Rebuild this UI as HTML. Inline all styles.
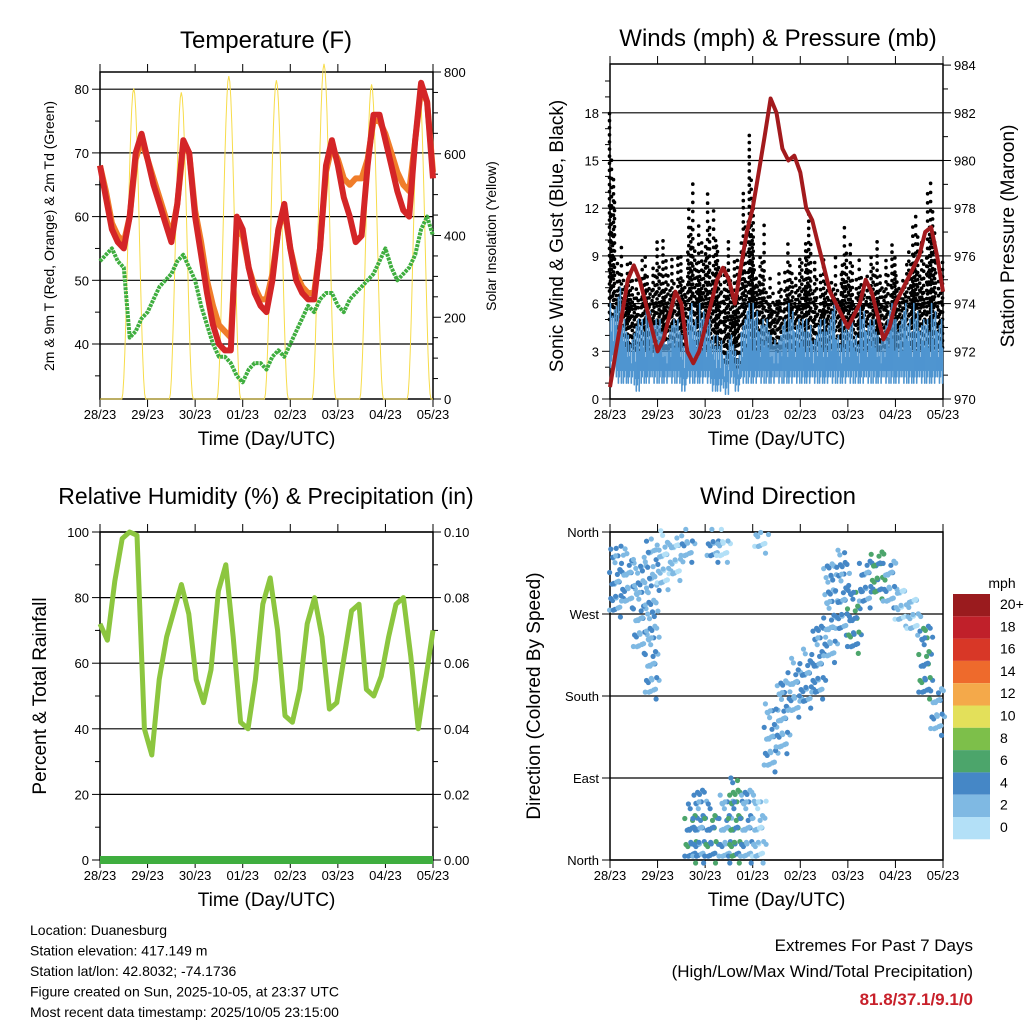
<!DOCTYPE html>
<html><head><meta charset="utf-8"><style>
body{margin:0;background:#fff}
svg{display:block;font-family:"Liberation Sans",sans-serif}
</style></head><body>
<svg id="s" width="1024" height="1024" viewBox="0 0 1024 1024"></svg>
<script>
// ---- data ----
const dayLabels=["28/23","29/23","30/23","01/23","02/23","03/23","04/23","05/23"];
const temp2m=[68,63,58,56,55,60,70,73,69,65,62,59,56,62,72,70,60,54,48,43,40,39,39,60,58,52,48,46,45,50,58,62,55,50,48,47,47,55,68,72,68,63,60,56,57,68,76,76,72,68,64,61,60,72,81,78,66];
const temp9m=[68,64,59,57,56,60,69,72,69,66,63,60,57,62,71,70,61,56,50,46,43,42,41,58,57,52,49,47,47,51,58,61,55,51,49,48,48,55,67,71,69,66,65,66,66,69,75,75,73,70,67,65,64,72,80,78,67];
const dewpt=[53,54,55,53,52,41,42,44,45,47,49,50,51,53,54,52,50,46,43,40,38,38,37,35,34,36,37,37,36,38,39,38,40,42,44,46,45,47,48,48,46,45,47,48,49,50,51,53,55,52,50,51,52,54,58,60,57];
const solarPeak=[760,750,790,780,820,770,775];
const pressure=[970.5,972,973.5,975,975.6,975,974,973,972,972.5,973.5,974.5,974,972,971.5,972,973,974,975,975.5,975,974,975.5,977,978,979.5,981,982.6,982,980.5,980,980.2,979.5,978,977.5,976.5,975.5,974.5,974,973.5,973,973.5,974,975,974.5,973.5,972.5,973,974,974.5,975,975.5,976,977,977.2,976,974.5];
const windMax=[6,7,5,4,5,5,6,5,5,4,5,5,4,6,5,6,5,4,4,3,4,3,5,6,6,5,5,4,4,5,6,5,5,5,4,5,5,6,4,5,5,4,6,5,5,4,5,6,5,6,5,6,5,5,6,5];
const windMin=[2,1,1,1,0.5,1,1,1,1,1,1,1,0.5,1,1,1,1,0.5,0.5,0.3,1,0.5,1,1,1,1,1,1,1,1,1,1,1,1,1,1,1,1,1,1,1,1,1,1,1,1,1,1,1,1,1,1,1,1,1,1];
const gustMax=[18,10,9,9,8,9,9,10,10,9,9,9,9,14,11,10,13,12,10,10,9,9,13,17,10,11,8,7,8,8,10,9,10,12,9,8,9,9,8,11,10,8,9,9,10,8,9,10,9,9,11,12,10,13,14,9];
const gustMin=[5,3,3,3,3,3,3,3,3,3,3,3,3,4,3,3,3,3,3,2,2,2,3,3,3,3,3,3,3,3,3,3,3,3,3,3,3,3,3,3,3,3,3,3,3,3,3,3,3,3,3,3,3,3,3,3];
const rh=[72,67,85,98,100,99,40,32,55,68,76,84,75,55,48,58,82,90,68,42,40,55,78,86,70,44,42,52,72,80,68,46,48,62,76,78,52,50,56,68,78,80,62,40,55,70];
const precip=[0,0,0,0,0,0,0,0];
const dirStart=[0,0.25,0.5,0.75,1.0,1.25,1.5,1.58,1.75,2.0,2.05,2.25,2.3,2.5,2.75,3.0,3.05,3.25,3.5,3.75,4.0,4.25,4.5,4.75,5.0,5.25,5.5,5.75,6.0,6.25,6.5,6.75];
const dirLo=[270,280,230,180,300,310,330,0,0,0,330,330,0,0,0,0,340,100,120,160,170,180,220,250,230,280,290,280,260,250,180,140];
const dirHi=[345,340,330,350,360,355,360,60,80,60,360,360,70,90,80,70,360,170,200,220,230,260,330,340,300,330,340,330,300,290,260,190];
const dirSpd=[4,3,3,3,2,2,3,5,4,5,4,1,3,6,3,2,2,3,3,3,4,4,3,4,5,4,6,3,2,2,5,3];
const cbLabels=["20+","18","16","14","12","10","8","6","4","2","0"];
const cbColors=["#9a1b1e","#c0202a","#d83727","#ee6a2c","#f4a94a","#e3e05a","#7dbf4a","#4ca56b","#4587c6","#7fb9e3","#b3e0f7"];

// ---- helpers ----
const S=document.getElementById('s');const NS="http://www.w3.org/2000/svg";
function mk(tag,at,parent){const e=document.createElementNS(NS,tag);for(const k in at)e.setAttribute(k,at[k]);(parent||S).appendChild(e);return e;}
function txt(x,y,t,sz,anchor,extra){const e=mk('text',Object.assign({x:x,y:y,'font-size':sz,'text-anchor':anchor||'middle',fill:'#000'},extra||{}));e.textContent=t;return e;}
function spdColor(v){let i=Math.min(10,Math.floor(v/2));return cbColors[10-i];}

function frame(x0,y0,x1,y1,name){
  const g=mk('g',{});
  
  
  mk('rect',{x:x0,y:y0,width:x1-x0,height:y1-y0,fill:'none',stroke:'#000','stroke-width':1.5},g);
  const step=(x1-x0)/7;
  for(let i=0;i<8;i++){const x=x0+i*step;
    mk('line',{x1:x,x2:x,y1:y1,y2:y1+8,stroke:'#000'},g);
    mk('line',{x1:x,x2:x,y1:y0,y2:y0-8,stroke:'#000'},g);
    const t=txt(x,y1+20,dayLabels[i],13);
    
    
  }
  const xt=txt((x0+x1)/2,y1+46,'Time (Day/UTC)',19);
  
  
  return g;
}
function leftTicks(x0,x1,yfn,vals,labels,minor,g,grid){
  vals.forEach((v,i)=>{const y=yfn(v);
    if(grid)mk('line',{x1:x0,x2:x1,y1:y,y2:y,stroke:'#000','stroke-width':1.2},g);
    mk('line',{x1:x0-8,x2:x0,y1:y,y2:y,stroke:'#000'},g);
    const t=txt(x0-11,y+5,labels[i],13,'end');
    
    });
  (minor||[]).forEach(v=>{const y=yfn(v);mk('line',{x1:x0-5,x2:x0,y1:y,y2:y,stroke:'#000'},g);});
}
function rightTicks(x1,yfn,vals,labels,minor,g){
  vals.forEach((v,i)=>{const y=yfn(v);
    mk('line',{x1:x1,x2:x1+8,y1:y,y2:y,stroke:'#000'},g);
    const t=txt(x1+11,y+5,labels[i],13,'start');
    
    });
  (minor||[]).forEach(v=>{const y=yfn(v);mk('line',{x1:x1,x2:x1+5,y1:y,y2:y,stroke:'#000'},g);});
}
function vtitle(x,y,t,sz,name){const e=txt(x,y,t,sz,'middle',{transform:`rotate(-90 ${x} ${y})`});
  
  }
function pathFrom(arr,xf,yf){return arr.map((v,i)=>(i?'L':'M')+xf(i).toFixed(1)+' '+yf(v).toFixed(1)).join(' ');}

// ---- Panel 1: temperature ----
{const X0=100,X1=433,Y0=72,Y1=399;
 const xd=d=>X0+d*(X1-X0)/7;
 const yT=v=>344-(v-40)*6.37;
 const yS=v=>399-v*(327/800);
 const g=frame(X0,Y0,X1,Y1,'temperature-panel');
 const tt=txt(266,48,'Temperature (F)',24);
 leftTicks(X0,X1,yT,[40,50,60,70,80],['40','50','60','70','80'],[35,45,55,65,75],g,true);
 rightTicks(X1,yS,[0,200,400,600,800],['0','200','400','600','800'],[50,100,150,250,300,350,450,500,550,650,700,750],g);
 vtitle(54,236,'2m & 9m T (Red, Orange) & 2m Td (Green)',14,'temperature-y-title');
 vtitle(496,236,'Solar Insolation (Yellow)',14,'solar-y-title');
 let sp='';solarPeak.forEach((pk,d)=>{for(let h=0;h<=24;h+=0.5){const t=d+h/24;let v=0;const ph=(h-11)/12;if(ph>0&&ph<1)v=pk*Math.pow(Math.sin(Math.PI*ph),2);sp+=(sp?'L':'M')+xd(t).toFixed(1)+' '+yS(v).toFixed(1);}});
 const sl=mk('path',{d:sp,fill:'none',stroke:'#f7dc4a','stroke-width':1});
 
 const n=temp2m.length,xi=i=>xd(i*7/(n-1));
 const dl=mk('path',{d:pathFrom(dewpt,xi,yT),fill:'none',stroke:'#3fae3f','stroke-width':4,'stroke-dasharray':'3 1','stroke-linejoin':'round'});
 
 const ol=mk('path',{d:pathFrom(temp9m,xi,yT),fill:'none',stroke:'#f07d2a','stroke-width':6,'stroke-linejoin':'round'});
 
 const rl=mk('path',{d:pathFrom(temp2m,xi,yT),fill:'none',stroke:'#d42527','stroke-width':6,'stroke-linejoin':'round'});
 
}

// ---- Panel 2: wind & pressure ----
{const X0=610,X1=943,Y0=64,Y1=399;
 const xd=d=>X0+d*(X1-X0)/7;
 const yW=v=>399-v*(47.7/3);
 const yP=v=>399-(v-970)*(47.7/2);
 const g=frame(X0,Y0,X1,Y1,'wind-pressure-panel');
 const tt=txt(778,46,'Winds (mph) & Pressure (mb)',24);
 leftTicks(X0,X1,yW,[0,3,6,9,12,15,18],['0','3','6','9','12','15','18'],[1,2,4,5,7,8,10,11,13,14,16,17,19,20],g,true);
 rightTicks(X1,yP,[970,972,974,976,978,980,982,984],['970','972','974','976','978','980','982','984'],[971,973,975,977,979,981,983],g);
 vtitle(563,236,'Sonic Wind & Gust (Blue, Black)',19,'wind-y-title');
 vtitle(1014,236,'Station Pressure (Maroon)',19,'pressure-y-title');
 const nb=gustMax.length,bw=(X1-X0)/nb;
 const gf=[1,0.55,0.8,0.45,0.7,0.6];
 const wf=[1,0.55,0.8,0.4,0.9,0.65];
 gustMax.forEach((mx,i)=>{for(let k=0;k<6;k++){const x=X0+(i+(k+0.5)/6)*bw+((k*3+i)%3-1);const top=gustMin[i]+(mx-gustMin[i])*gf[(k+i)%6];
   const b=mk('line',{x1:x.toFixed(1),x2:x.toFixed(1),y1:yW(gustMin[i]),y2:yW(top),stroke:'#000','stroke-width':3.6,'stroke-linecap':'round','stroke-dasharray':'0.1 '+(7+(k+i)%4),'stroke-dashoffset':(k*2.3+i)%7});
   }});
 windMax.forEach((mx,i)=>{for(let k=0;k<6;k++){const x=X0+(i+(k+0.5)/6)*bw;const top=windMin[i]+(mx-windMin[i])*wf[(k+2*i)%6];const bot=windMin[i]+((k+i)%3)*0.4;
   const b=mk('line',{x1:x.toFixed(1),x2:x.toFixed(1),y1:yW(bot),y2:yW(top),stroke:'#4f95d0','stroke-width':1.6,'stroke-linecap':'round'});
   }});
 const n=pressure.length;
 const pl=mk('path',{d:pathFrom(pressure,i=>xd(i*7/(n-1)),yP),fill:'none',stroke:'#a31a1d','stroke-width':4,'stroke-linejoin':'round'});
 
}

// ---- Panel 3: RH ----
{const X0=100,X1=433,Y0=532,Y1=860;
 const xd=d=>X0+d*(X1-X0)/7;
 const yR=v=>860-v*3.28;
 const g=frame(X0,Y0,X1,Y1,'humidity-panel');
 const tt=txt(266,504,'Relative Humidity (%) & Precipitation (in)',23);
 leftTicks(X0,X1,yR,[0,20,40,60,80,100],['0','20','40','60','80','100'],[10,30,50,70,90],g,true);
 rightTicks(X1,yR,[0,20,40,60,80,100],['0.00','0.02','0.04','0.06','0.08','0.10'],[10,30,50,70,90],g);
 vtitle(46,696,'Percent & Total Rainfall',19,'humidity-y-title');
 const n=rh.length;
 const rl=mk('path',{d:pathFrom(rh,i=>xd(i*7/(n-1)),yR),fill:'none',stroke:'#8cc63f','stroke-width':5,'stroke-linejoin':'round'});
 
 const pp=mk('path',{d:pathFrom(precip,i=>xd(i),v=>yR(v*1000)),fill:'none',stroke:'#3fae3f','stroke-width':8});
 
}

// ---- Panel 4: wind direction ----
{const X0=610,X1=943,Y0=532,Y1=860;
 const xd=d=>X0+d*(X1-X0)/7;
 const yD=v=>860-v*(328/360);
 const g=frame(X0,Y0,X1,Y1,'wind-direction-panel');
 const tt=txt(778,504,'Wind Direction',24);
 leftTicks(X0,X1,yD,[0,90,180,270,360],['North','East','South','West','North'],[],g,true);
 vtitle(540,696,'Direction (Colored By Speed)',19,'direction-y-title');
 dirStart.forEach((t,i)=>{const xa=xd(t),xb=xd(Math.min(7,t+0.25));
   for(let x=xa+2,c=0;x<xb;x+=3,c++){for(let v=dirLo[i]+(c*5)%9,m=0;v<=dirHi[i];v+=7+(m%3)*3,m++){
     const jx=((c*7+m*3)%5-2)*1.2,jy=((c*3+m*5)%7-3)*1.3;
     const sp=dirSpd[i]+((c+m)%3)-1;
     const p=mk('circle',{cx:(x+jx).toFixed(1),cy:(yD(v)+jy).toFixed(1),r:2.6,fill:spdColor(Math.max(0,sp))});
     }}});
 const cb=mk('g',{});
 
 const ct=txt(1002,588,'mph',14);
 cbColors.forEach((c,i)=>{const y=594+i*22.3;mk('rect',{x:953,y:y,width:37,height:22.3,fill:c},cb);
   const l=txt(1000,y+15,cbLabels[i],14,'start');});
}

// ---- footer ----
const info=["Location: Duanesburg","Station elevation: 417.149 m","Station lat/lon: 42.8032; -74.1736","Figure created on Sun, 2025-10-05, at 23:37 UTC","Most recent data timestamp: 2025/10/05 23:15:00"];
info.forEach((s,i)=>{const e=txt(30,935+i*20.5,s,14,'start');});
const e1=txt(973,951,'Extremes For Past 7 Days',17,'end');
const e2=txt(973,977,'(High/Low/Max Wind/Total Precipitation)',17,'end');
const e3=txt(973,1005,'81.8/37.1/9.1/0',17,'end',{fill:'#c8202a','font-weight':'bold'});
</script>
</body></html>
